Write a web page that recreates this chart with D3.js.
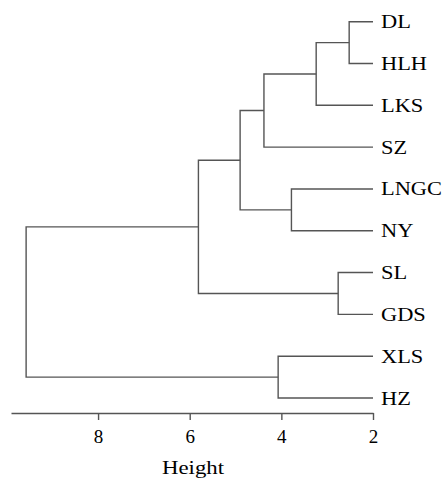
<!DOCTYPE html>
<html>
<head>
<meta charset="utf-8">
<script src="https://cdn.jsdelivr.net/npm/d3@7"></script>
<style>
  body { margin: 0; background: #fff; }
  text { font-family: "Liberation Serif", "Times New Roman", serif; fill: #000; }
</style>
</head>
<body>
<div id="vis"></div>
<script>
const svgWidth = 446,
  svgHeight = 479;

// leaves, top to bottom
const labels = ["DL", "HLH", "LKS", "SZ", "LNGC", "NY", "SL", "GDS", "XLS", "HZ"];
// R-style merge table: negative = leaf index (1-based), positive = earlier merge
const merges = [[-1, -2], [1, -3], [2, -4], [-5, -6], [3, 4], [-7, -8], [5, 6], [-9, -10], [7, 8]];
const heights = [2.52, 3.24, 4.38, 3.78, 4.9, 2.76, 5.81, 4.07, 9.57];
const leafHeight = 2;
const tickValues = [2, 4, 6, 8];

const x = d3.scaleLinear().domain([9.9, 2]).range([11, 373]);
const y = d3.scalePoint().domain(labels).range([21.7, 398]);

const svg = d3
  .select("#vis")
  .append("svg")
  .attr("width", svgWidth)
  .attr("height", svgHeight);

// build nodes from the merge table
const nodes = [];
function nodeOf(i) {
  if (i < 0) {
    const name = labels[-i - 1];
    return { h: leafHeight, y: y(name), name };
  }
  return nodes[i - 1];
}
merges.forEach((m, i) => {
  const a = nodeOf(m[0]),
    b = nodeOf(m[1]);
  nodes.push({ h: heights[i], y: (a.y + b.y) / 2, kids: [a, b] });
});

function elbow(p) {
  const path = d3.path();
  p.kids.forEach((k) => {
    path.moveTo(x(p.h), p.y);
    path.lineTo(x(p.h), k.y);
    path.lineTo(x(k.h), k.y);
  });
  return path.toString();
}

svg
  .append("g")
  .selectAll("path")
  .data(nodes)
  .enter()
  .append("path")
  .attr("d", elbow)
  .style("fill", "none")
  .style("stroke", "#555")
  .style("stroke-width", 1.4);

// leaf labels
svg
  .append("g")
  .selectAll("text")
  .data(labels)
  .enter()
  .append("text")
  .attr("transform", (d) => `translate(381,${y(d) + 6.5}) scale(1.18,1)`)
  .style("font-size", "19px")
  .text((d) => d);

// axis
const axis = svg
  .append("g")
  .attr("transform", "translate(0,413)")
  .call(d3.axisBottom(x).tickValues(tickValues).tickSizeInner(7).tickSizeOuter(0).tickPadding(10));
axis.select(".domain").attr("stroke", "#555").attr("stroke-width", 1.4);
axis.selectAll(".tick line").attr("stroke", "#555").attr("stroke-width", 1.4);
axis
  .selectAll(".tick text")
  .attr("font-family", null)
  .attr("dy", null)
  .attr("y", 30)
  .style("font-size", "19px")
  .style("fill", "#000");

svg
  .append("text")
  .attr("transform", "translate(193,474) scale(1.2,1)")
  .attr("text-anchor", "middle")
  .style("font-size", "19px")
  .text("Height");
</script>
</body>
</html>
